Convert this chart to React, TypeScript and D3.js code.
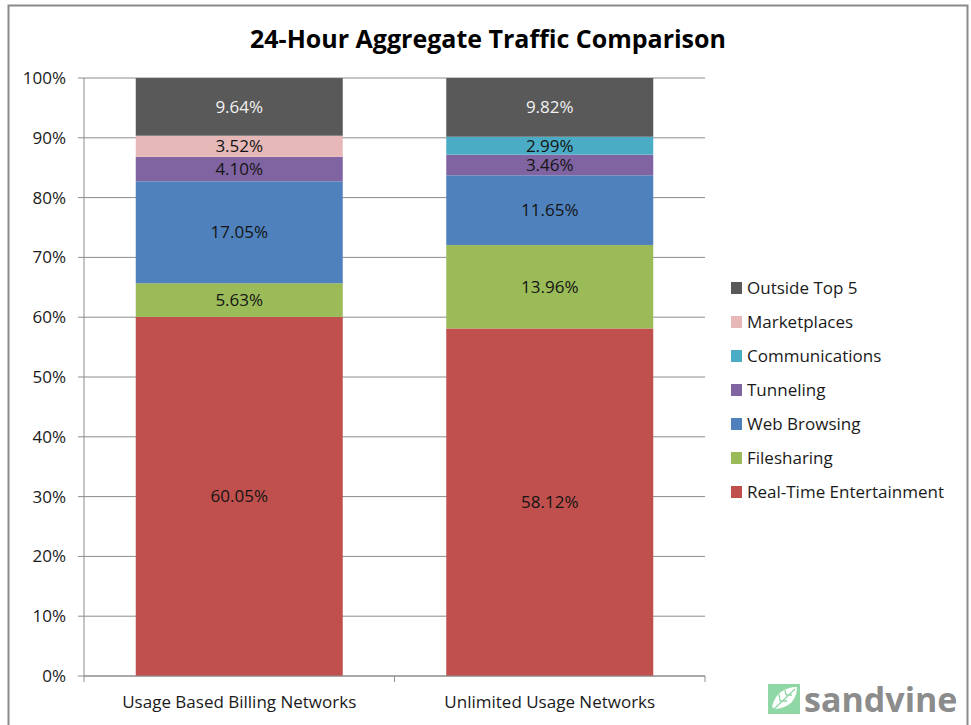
import React from "react";
import * as d3 from "d3";

// categories on the x axis
const networks = ["Usage Based Billing Networks", "Unlimited Usage Networks"];

// series, bottom of stack first
const series = [
  "Real-Time Entertainment",
  "Filesharing",
  "Web Browsing",
  "Tunneling",
  "Communications",
  "Marketplaces",
  "Outside Top 5",
];

const usageBased = [60.05, 5.63, 17.05, 4.1, 0, 3.52, 9.64];
const unlimited = [58.12, 13.96, 11.65, 3.46, 2.99, 0, 9.82];

const colors = ["#C0504D", "#9BBB59", "#4F81BD", "#8064A2", "#4BACC6", "#E6B9B8", "#595959"];

const yTicks = [0, 10, 20, 30, 40, 50, 60, 70, 80, 90, 100];

const W = 971;
const H = 725;
const margin = { top: 78, left: 84, right: 266, bottom: 49 };
const FONT = "'Open Sans', sans-serif";
const FS = 17;

export default function App() {
  const rows = networks.map((n, i) => {
    const vals = i === 0 ? usageBased : unlimited;
    const r: any = { name: n };
    series.forEach((s, j) => (r[s] = vals[j]));
    return r;
  });
  const stacked = d3.stack().keys(series)(rows);

  const x = d3
    .scaleBand()
    .domain(networks)
    .range([margin.left, W - margin.right])
    .paddingInner(1 / 3)
    .paddingOuter(1 / 6);
  const y = d3.scaleLinear().domain([0, 100]).range([H - margin.bottom, margin.top]);
  const x0 = margin.left;
  const x1 = W - margin.right;

  const legendItems = series.slice().reverse();

  return (
    <svg width={W} height={H} style={{ position: "absolute", left: 0, top: 0 }} fontFamily={FONT}>
      <rect x={0} y={0} width={W} height={H} fill="#fff" />
      <rect x={8.5} y={5.5} width={959} height={730} fill="none" stroke="#8a8a8a" strokeWidth={2} />
      <text x={488} y={48} textAnchor="middle" fontSize={25} fontWeight="bold" fill="#000">
        24-Hour Aggregate Traffic Comparison
      </text>

      {/* gridlines + y axis ticks */}
      {yTicks.map((t) => (
        <g key={t}>
          <line x1={x0 - 6} x2={x1} y1={y(t)} y2={y(t)} stroke="#8c8c8c" strokeWidth={1} />
          <text x={66} y={y(t) + 6} textAnchor="end" fontSize={FS} fill="#1a1a1a">
            {t}%
          </text>
        </g>
      ))}
      <line x1={x0} x2={x0} y1={y(100)} y2={y(0)} stroke="#8c8c8c" />

      {/* bars */}
      {stacked.map((layer, li) =>
        layer.map((d, bi) => {
          const v = d[1] - d[0];
          if (v <= 0) return null;
          const name = networks[bi];
          return (
            <g key={series[li] + bi}>
              <rect
                x={x(name)}
                width={x.bandwidth()}
                y={y(d[1])}
                height={y(d[0]) - y(d[1])}
                fill={colors[li]}
              />
              <text
                x={(x(name) as number) + x.bandwidth() / 2}
                y={(y(d[0]) + y(d[1])) / 2 + 6}
                textAnchor="middle"
                fontSize={FS}
                fill={li === series.length - 1 ? "#f2f2f2" : "#141414"}
              >
                {v.toFixed(2)}%
              </text>
            </g>
          );
        })
      )}

      {/* x axis */}
      <line x1={x0} x2={x1} y1={y(0)} y2={y(0)} stroke="#8c8c8c" />
      {[x0, (x0 + x1) / 2, x1].map((tx, i) => (
        <line key={i} x1={tx} x2={tx} y1={y(0)} y2={y(0) + 6} stroke="#8c8c8c" />
      ))}
      {networks.map((n) => (
        <text
          key={n}
          x={(x(n) as number) + x.bandwidth() / 2}
          y={708}
          textAnchor="middle"
          fontSize={FS}
          fill="#1a1a1a"
        >
          {n}
        </text>
      ))}

      {/* legend */}
      {legendItems.map((s, i) => {
        const ci = series.indexOf(s);
        const ly = 288 + i * 34;
        return (
          <g key={s}>
            <rect x={731} y={ly - 6} width={11} height={12} fill={colors[ci]} />
            <text x={747} y={ly + 6} fontSize={FS} fill="#1a1a1a">
              {s}
            </text>
          </g>
        );
      })}

      {/* sandvine logo */}
      <g>
        <rect x={768} y={684} width={32} height={30} fill="#8fd8a6" />
        <path d="M772 707 C775 693 785 687 797 687 C797 699 790 708 775 709 Z" fill="#fff" />
        <path d="M773 710 L795 689 M780 701 L779 694 M780 701 L787 701 M786 695 L785 690 M786 695 L792 695" stroke="#8fd8a6" strokeWidth={1.3} />
        <text x={804} y={712} fontSize={34} fontWeight="bold" fill="#8c8c8c" fontFamily="'Open Sans', sans-serif">
          sandvine
        </text>
      </g>
    </svg>
  );
}
